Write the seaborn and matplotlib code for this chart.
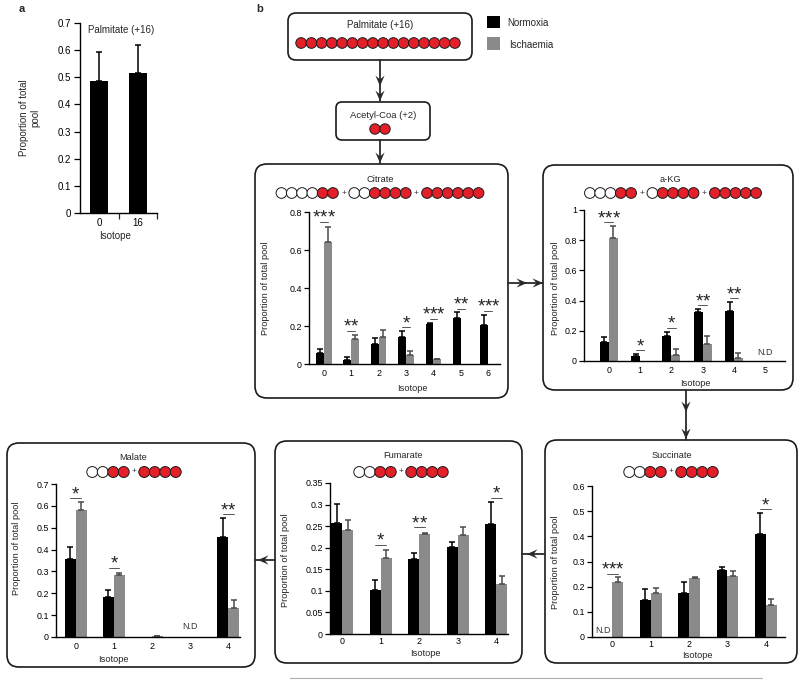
import numpy as np
import pandas as pd
import matplotlib
matplotlib.use("Agg")
import matplotlib.pyplot as plt
import seaborn as sns
from matplotlib.patches import FancyBboxPatch, Circle, Polygon, Rectangle

sns.set_theme(style="ticks")
plt.rcParams["font.family"] = ["Liberation Sans", "DejaVu Sans"]

# ---------------- data ----------------
conditions = ["Normoxia", "Ischaemia"]

pal_iso = ["0", "16"]
pal_val = [0.487, 0.515]
pal_err = [0.105, 0.105]

cit_iso = ["0", "1", "2", "3", "4", "5", "6"]
cit_norm = [0.060, 0.019, 0.104, 0.143, 0.212, 0.244, 0.205]
cit_norm_err = [0.018, 0.018, 0.031, 0.030, 0.003, 0.029, 0.053]
cit_isch = [0.644, 0.131, 0.143, 0.048, 0.025, 0.0, 0.0]
cit_isch_err = [0.075, 0.021, 0.034, 0.023, 0.003, 0.0, 0.0]
cit_sig_pos = [0, 1, 3, 4, 5, 6]
cit_sig_txt = ["***", "**", "*", "***", "**", "***"]
cit_sig_y = [0.750, 0.173, 0.193, 0.237, 0.290, 0.280]

akg_iso = ["0", "1", "2", "3", "4", "5"]
akg_norm = [0.126, 0.031, 0.164, 0.325, 0.330, 0.0]
akg_norm_err = [0.031, 0.018, 0.031, 0.018, 0.059, 0.0]
akg_isch = [0.812, 0.0, 0.038, 0.115, 0.022, 0.0]
akg_isch_err = [0.082, 0.0, 0.044, 0.051, 0.033, 0.0]
akg_sig_pos = [0, 1, 2, 3, 4]
akg_sig_txt = ["***", "*", "*", "**", "**"]
akg_sig_y = [0.918, 0.071, 0.221, 0.369, 0.414]

mal_iso = ["0", "1", "2", "3", "4"]
mal_norm = [0.357, 0.182, 0.0, 0.0, 0.459]
mal_norm_err = [0.055, 0.035, 0.0, 0.0, 0.085]
mal_isch = [0.582, 0.283, 0.004, 0.0, 0.132]
mal_isch_err = [0.034, 0.011, 0.0, 0.0, 0.036]
mal_sig_pos = [0, 1, 4]
mal_sig_txt = ["*", "*", "**"]
mal_sig_y = [0.635, 0.317, 0.562]

fum_iso = ["0", "1", "2", "3", "4"]
fum_norm = [0.257, 0.103, 0.174, 0.201, 0.256]
fum_norm_err = [0.045, 0.023, 0.013, 0.013, 0.049]
fum_isch = [0.240, 0.176, 0.232, 0.230, 0.116]
fum_isch_err = [0.024, 0.018, 0.002, 0.018, 0.019]
fum_sig_pos = [1, 2, 4]
fum_sig_txt = ["*", "**", "*"]
fum_sig_y = [0.207, 0.247, 0.315]

suc_iso = ["0", "1", "2", "3", "4"]
suc_norm = [0.0, 0.146, 0.175, 0.268, 0.409]
suc_norm_err = [0.0, 0.043, 0.044, 0.011, 0.082]
suc_isch = [0.219, 0.175, 0.236, 0.243, 0.129]
suc_isch_err = [0.020, 0.020, 0.003, 0.020, 0.021]
suc_sig_pos = [0, 4]
suc_sig_txt = ["***", "*"]
suc_sig_y = [0.252, 0.507]

# carbon labelling patterns (0 = unlabelled, 1 = 13C)
palm_atoms = [[1] * 16]
acoa_atoms = [[1, 1]]
cit_atoms = [[0, 0, 0, 0, 1, 1], [0, 0, 1, 1, 1, 1], [1, 1, 1, 1, 1, 1]]
akg_atoms = [[0, 0, 0, 1, 1], [0, 1, 1, 1, 1], [1, 1, 1, 1, 1]]
c4_atoms = [[0, 0, 1, 1], [1, 1, 1, 1]]

# ---------------- style ----------------
W, H = 800, 681
BLACK = "#000000"
GRAY = "#8a8a8a"
RED = "#e3202a"
PAL = {"Normoxia": BLACK, "Ischaemia": GRAY}
ERRC = {"Normoxia": BLACK, "Ischaemia": "#4a4a4a"}
FS_TICK = 6.4
FS_LAB = 6.7

fig = plt.figure(figsize=(W / 100, H / 100), dpi=100)
ov = fig.add_axes([0, 0, 1, 1], zorder=0)
ov.set_xlim(0, W)
ov.set_ylim(H, 0)
ov.axis("off")


def fmt(v):
    return ("%.3f" % v).rstrip("0").rstrip(".")


def new_axes(l, t, r, b):
    ax = fig.add_axes([l / W, 1 - b / H, (r - l) / W, (b - t) / H], zorder=2)
    ax.set_facecolor("none")
    return ax


def px2ax(box, px, py):
    l, t, r, b = box
    return (px - l) / (r - l), (b - py) / (b - t)


def style_axes(ax, box, ylim, yticks, xlim, ylab_px, xlab_px, ylabel="Proportion of total pool",
               fs_tick=FS_TICK, fs_lab=FS_LAB, xpad=3.5):
    ax.set_ylim(*ylim)
    ax.set_xlim(*xlim)
    ax.set_yticks(yticks)
    ax.set_yticklabels([fmt(v) for v in yticks])
    sns.despine(ax=ax)
    for s in ("left", "bottom"):
        ax.spines[s].set_linewidth(1.0)
        ax.spines[s].set_color("black")
    ax.tick_params(axis="y", length=3.5, width=0.9, pad=1.5, labelsize=fs_tick, colors="black")
    ax.tick_params(axis="x", length=0, pad=xpad, labelsize=fs_tick, colors="black")
    ax.set_ylabel(ylabel, fontsize=fs_lab, va="center", ha="center")
    ax.yaxis.set_label_coords(*px2ax(box, *ylab_px))
    ax.set_xlabel("Isotope", fontsize=fs_lab, va="center", ha="center")
    ax.xaxis.set_label_coords(*px2ax(box, *xlab_px))


def add_errors(ax, cont, vals, errs, color):
    for bar, v, e in zip(cont, vals, errs):
        if v == 0 and e == 0:
            continue
        x = bar.get_x() + bar.get_width() / 2
        ax.errorbar([x], [v], yerr=[[0], [e]], fmt="none", ecolor=color,
                    elinewidth=1.1, capsize=2.2, capthick=1.1, zorder=1)


def add_sig(ax, pos, txt, ys):
    for p, t, y in zip(pos, txt, ys):
        ax.plot([p - 0.14, p + 0.14], [y, y], color="#555555", lw=0.7, clip_on=False)
        n = len(t)
        for k in range(n):
            dx = (k - (n - 1) / 2) * 5.2
            ax.annotate("*", (p, y), xytext=(dx, -0.6), textcoords="offset points",
                        ha="center", va="baseline", fontsize=13.5, color="#222222",
                        annotation_clip=False)


def grouped_panel(box, iso, norm, norm_err, isch, isch_err, ylim, yticks, xlim,
                  ylab_px, xlab_px, sig, xpad=3.5):
    ax = new_axes(*box)
    df = pd.DataFrame({
        "Isotope": iso + iso,
        "Proportion": norm + isch,
        "Condition": ["Normoxia"] * len(iso) + ["Ischaemia"] * len(iso),
    })
    sns.barplot(data=df, x="Isotope", y="Proportion", hue="Condition", order=iso,
                hue_order=conditions, palette=PAL, width=0.57, errorbar=None,
                saturation=1, legend=False, linewidth=0, ax=ax)
    add_errors(ax, ax.containers[0], norm, norm_err, ERRC["Normoxia"])
    add_errors(ax, ax.containers[1], isch, isch_err, ERRC["Ischaemia"])
    style_axes(ax, box, ylim, yticks, xlim, ylab_px, xlab_px, xpad=xpad)
    add_sig(ax, *sig)
    return ax


# ---------------- diagram helpers ----------------
def rbox(l, t, r, b, rad=10, lw=1.2):
    ov.add_patch(FancyBboxPatch((l, t), r - l, b - t,
                                boxstyle="round,pad=0,rounding_size=%g" % rad,
                                fc="white", ec="#1a1a1a", lw=lw, zorder=1))


def atoms(cx, cy, groups, step=10.3, gap=11.0):
    n = sum(len(g) for g in groups)
    total = n * step + (len(groups) - 1) * gap
    x = cx - total / 2 + step / 2
    for gi, g in enumerate(groups):
        for a in g:
            ov.add_patch(Circle((x, cy), step / 2 + 0.2, fc=RED if a else "white",
                                ec="#1a1a1a", lw=0.7, zorder=3))
            x += step
        if gi < len(groups) - 1:
            ov.text(x - step / 2 + gap / 2, cy, "+", ha="center", va="center",
                    fontsize=6, color="#333333", zorder=3)
            x += gap


def head(x, y, ux, uy, L=10.5, hw=4.6):
    px, py = -uy, ux
    pts = [(x, y),
           (x - ux * L + px * hw, y - uy * L + py * hw),
           (x - ux * L * 0.62, y - uy * L * 0.62),
           (x - ux * L - px * hw, y - uy * L - py * hw)]
    ov.add_patch(Polygon(pts, closed=True, fc="#2a2a2a", ec="none", zorder=4))


def arrow(x0, y0, x1, y1, tips):
    ov.plot([x0, x1], [y0, y1], color="#2a2a2a", lw=1.3, zorder=3)
    d = np.hypot(x1 - x0, y1 - y0)
    ux, uy = (x1 - x0) / d, (y1 - y0) / d
    for t in tips:
        head(x0 + ux * t, y0 + uy * t, ux, uy)


# ---------------- panel a ----------------
box_a = (80, 23, 157, 213)
ax_a = new_axes(*box_a)
df_a = pd.DataFrame({"Isotope": pal_iso, "Proportion": pal_val})
sns.barplot(data=df_a, x="Isotope", y="Proportion", order=pal_iso, color=BLACK,
            width=0.46, errorbar=None, saturation=1, linewidth=0, ax=ax_a)
add_errors(ax_a, ax_a.containers[0], pal_val, pal_err, BLACK)
style_axes(ax_a, box_a, (0, 0.7), [0, 0.1, 0.2, 0.3, 0.4, 0.5, 0.6, 0.7], (-0.5, 1.5),
           (30, 118), (115, 236), ylabel="Proportion of total\npool", fs_tick=7.0, fs_lab=7.0)
ax_a.set_xticks([0.5, 1.5], minor=True)
ax_a.tick_params(axis="x", which="minor", length=4, width=0.9, direction="out")
ax_a.tick_params(axis="y", length=4.5, pad=2)
ax_a.text(0.53, 0.965, "Palmitate (+16)", transform=ax_a.transAxes, ha="center",
          va="center", fontsize=7.0)

ov.text(22, 9, "a", fontsize=8, fontweight="bold", ha="center", va="center")
ov.text(260, 9, "b", fontsize=8, fontweight="bold", ha="center", va="center")

# ---------------- diagram ----------------
rbox(288, 13, 472, 60, rad=8)
ov.text(380, 25, "Palmitate (+16)", ha="center", va="center", fontsize=7.0)
atoms(378, 43, palm_atoms, step=10.25)

rbox(336, 102, 430, 140, rad=6)
ov.text(383, 115, "Acetyl-Coa (+2)", ha="center", va="center", fontsize=6.8)
atoms(380, 129, acoa_atoms, step=10.0)

# legend
ov.add_patch(Rectangle((487, 16), 13, 12, fc=BLACK, ec="none"))
ov.text(507, 23, "Normoxia", ha="left", va="center", fontsize=7.0)
ov.add_patch(Rectangle((487, 37), 13, 13, fc=GRAY, ec="none"))
ov.text(509, 45, "Ischaemia", ha="left", va="center", fontsize=7.0)

rbox(255, 164, 508, 398, rad=12)
rbox(543, 165, 793, 390, rad=12)
rbox(7, 443, 255, 667, rad=12)
rbox(275, 441, 522, 663, rad=12)
rbox(545, 440, 797, 663, rad=12)

ov.text(380, 179, "Citrate", ha="center", va="center", fontsize=6.7)
atoms(380, 193, cit_atoms)
ov.text(670, 179, "a-KG", ha="center", va="center", fontsize=6.7)
atoms(673, 193, akg_atoms)
ov.text(133, 457, "Malate", ha="center", va="center", fontsize=6.7)
atoms(134, 472, c4_atoms, step=10.5, gap=10)
ov.text(403, 455, "Fumarate", ha="center", va="center", fontsize=6.7)
atoms(401, 472, c4_atoms, step=10.5, gap=10)
ov.text(672, 455, "Succinate", ha="center", va="center", fontsize=6.7)
atoms(671, 472, c4_atoms, step=10.5, gap=10)

arrow(380, 60, 380, 101, [26, 41])
arrow(380, 140, 380, 163, [23])
arrow(508, 283, 543, 283, [19, 35])
arrow(686, 390, 686, 440, [22, 49])
arrow(545, 554, 522, 554, [18])
arrow(275, 560, 255, 560, [17])
ov.plot([290, 762], [678, 678], color="#b0b0b0", lw=0.8)

# ---------------- panel b charts ----------------
ax_c = grouped_panel((309, 212, 500, 364), cit_iso, cit_norm, cit_norm_err, cit_isch, cit_isch_err,
                     (0, 0.8), [0, 0.2, 0.4, 0.6, 0.8], (-0.54, 6.43),
                     (265, 288), (412, 388), (cit_sig_pos, cit_sig_txt, cit_sig_y))

ax_k = grouped_panel((584, 210, 785, 361), akg_iso, akg_norm, akg_norm_err, akg_isch, akg_isch_err,
                     (0, 1.0), [0, 0.2, 0.4, 0.6, 0.8, 1.0], (-0.79, 5.63),
                     (556, 288), (695, 383), (akg_sig_pos, akg_sig_txt, akg_sig_y))
ax_k.text(5, 0.028, "N.D", ha="center", va="bottom", fontsize=6.4, color="#333333")

ax_m = grouped_panel((56, 484, 240, 637), mal_iso, mal_norm, mal_norm_err, mal_isch, mal_isch_err,
                     (0, 0.7), [0, 0.1, 0.2, 0.3, 0.4, 0.5, 0.6, 0.7], (-0.52, 4.31),
                     (17, 548), (113, 660), (mal_sig_pos, mal_sig_txt, mal_sig_y))
ax_m.text(3, 0.028, "N.D", ha="center", va="bottom", fontsize=6.4, color="#333333")

ax_f = grouped_panel((330, 483, 508, 634), fum_iso, fum_norm, fum_norm_err, fum_isch, fum_isch_err,
                     (0, 0.35), [0, 0.05, 0.1, 0.15, 0.2, 0.25, 0.3, 0.35], (-0.32, 4.3),
                     (285, 560), (425, 653), (fum_sig_pos, fum_sig_txt, fum_sig_y), xpad=2.5)

ax_s = grouped_panel((592, 486, 785, 637), suc_iso, suc_norm, suc_norm_err, suc_isch, suc_isch_err,
                     (0, 0.6), [0, 0.1, 0.2, 0.3, 0.4, 0.5, 0.6], (-0.53, 4.5),
                     (555, 562), (697, 655), (suc_sig_pos, suc_sig_txt, suc_sig_y), xpad=2.5)
ax_s.text(-0.24, 0.008, "N.D", ha="center", va="bottom", fontsize=6.4, color="#333333")

fig.savefig("out.png", dpi=100)
